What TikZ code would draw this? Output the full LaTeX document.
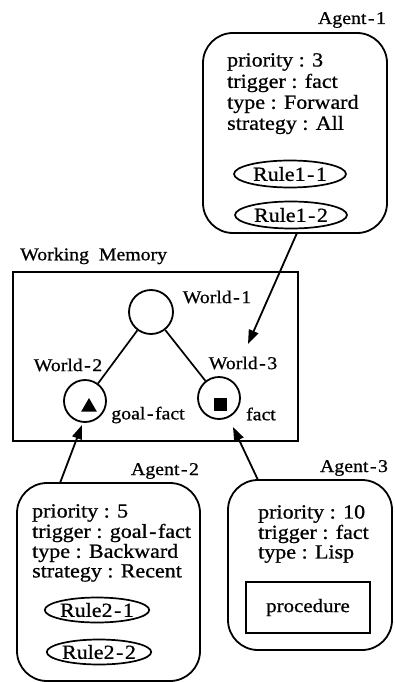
\documentclass[tikz,border=0pt]{standalone}
\usepackage{fontspec}
\setmainfont{Liberation Serif}[FakeStretch=1.1,FakeBold=0.8]
\newcommand\hy{\kern1.5pt-\kern1.5pt}
\usetikzlibrary{shapes.geometric,arrows.meta}
\begin{document}
\begin{tikzpicture}[x=1pt,y=-1pt,
  agentbox/.style={draw, line width=1.8pt, rounded corners=30pt, inner sep=0, minimum width=#1},
  txt/.style={font=\fontsize{20}{20}\selectfont, inner sep=0, anchor=west},
  lbl/.style={font=\fontsize{18}{18}\selectfont, inner sep=0},
  rulebox/.style={draw, ellipse, line width=1.7pt, minimum width=112pt, minimum height=27pt, inner sep=0, font=\fontsize{20}{20}\selectfont},
  world/.style={draw, circle, minimum size=42pt, line width=1.8pt, inner sep=0},
  arr/.style={-{Triangle[length=14pt,width=10pt]}, line width=1.8pt},
  link/.style={line width=1.7pt}
]
\useasboundingbox (0,0) rectangle (394,682);

% Agent-1
\node[agentbox=184pt, minimum height=200pt] (a1) at (295,133) {};
\node[lbl] (a1lbl) at (352,20) {Agent\hy1};
\node[txt] (a1l1) at (227,62) {priority : 3};
\node[txt] (a1l2) at (227,83) {trigger : fact};
\node[txt] (a1l3) at (227,104) {type : Forward};
\node[txt] (a1l4) at (227,125) {strategy : All};
\node[rulebox] (r11) at (290,174) {Rule1\hy1};
\node[rulebox] (r12) at (291,215) {Rule1\hy2};

% Working memory
\node[lbl, anchor=west] (wmlbl) at (20,256) {Working\ \ Memory};
\node[draw, line width=1.7pt, minimum width=285pt, minimum height=169pt, inner sep=0] (wm) at (155.5,356.5) {};
\node[world, minimum size=44pt] (w1) at (151,312) {};
\node[world] (w2) at (85,401) {};
\node[world] (w3) at (219,398) {};
\node[lbl] (w1lbl) at (217,297) {World\hy1};
\node[lbl] (w2lbl) at (68,365) {World\hy2};
\node[lbl] (w3lbl) at (243,363) {World\hy3};
\node[regular polygon, regular polygon sides=3, fill=black, minimum size=18pt, inner sep=0] (tri) at (89,407) {};
\node[fill=black, minimum size=13pt, inner sep=0] (sq) at (220,404) {};
\node[lbl] (gf) at (148,415) {goal\hy fact};
\node[lbl] (fa) at (261,414) {fact};
\draw[link] (w1) -- (w2);
\draw[link] (w1) -- (w3);

% Agent-2
\node[agentbox=183pt, minimum height=198pt] (a2) at (108.5,582) {};
\node[lbl] (a2lbl) at (165,471) {Agent\hy2};
\node[txt] (a2l1) at (32,513) {priority : 5};
\node[txt] (a2l2) at (32,533) {trigger : goal\hy fact};
\node[txt] (a2l3) at (32,553) {type : Backward};
\node[txt] (a2l4) at (32,573) {strategy : Recent};
\node[rulebox, minimum width=95pt, minimum height=25pt] (r21) at (97,610) {Rule2\hy1};
\node[rulebox, minimum width=96pt, minimum height=25pt] (r22) at (99,652) {Rule2\hy2};

% Agent-3
\node[agentbox=164pt, minimum height=170pt] (a3) at (310,565) {};
\node[lbl] (a3lbl) at (354,468) {Agent\hy3};
\node[txt] (a3l1) at (258,514) {priority : 10};
\node[txt] (a3l2) at (258,534) {trigger : fact};
\node[txt] (a3l3) at (258,554) {type : Lisp};
\node[draw, line width=1.7pt, minimum width=124pt, minimum height=51pt, inner sep=0, font=\fontsize{19}{19}\selectfont] (proc) at (308,607.5) {procedure};

% connectors
\coordinate (a1tail) at (297,233);
\coordinate (a1head) at (248,344);
\draw[arr] (a1tail) -- (a1head);
\coordinate (a2tail) at (60,483);
\coordinate (a2head) at (82,425);
\draw[arr] (a2tail) -- (a2head);
\coordinate (a3tail) at (258,480);
\coordinate (a3head) at (233,427);
\draw[arr] (a3tail) -- (a3head);
\end{tikzpicture}
\end{document}
